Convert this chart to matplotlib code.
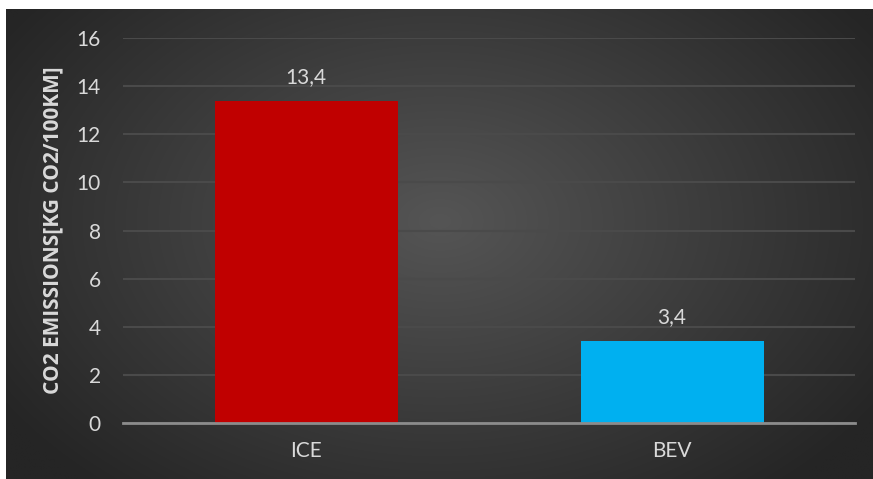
import numpy as np
import matplotlib
matplotlib.use("Agg")
import matplotlib.pyplot as plt

categories = ["ICE", "BEV"]
values = [13.4, 3.4]
labels = ["13,4", "3,4"]
colors = ["#C00000", "#00B0F0"]
yticks = [0, 2, 4, 6, 8, 10, 12, 14, 16]
ylabel = "CO2 EMISSIONS[KG CO2/100KM]"

W, H = 873, 479
fig = plt.figure(figsize=(W/100, H/100), dpi=100, facecolor="white")
plt.rcParams['font.family'] = ['Lato', 'DejaVu Sans']

# background radial gradient
bx0, by1 = 6/W, 1 - 9/H
bg = fig.add_axes([bx0, 0, 1 - bx0, by1])
ny, nx = 300, 550
yy, xx = np.mgrid[0:ny, 0:nx]
cx, cy = nx*0.5, ny*0.45
r = np.sqrt(((xx-cx)/(nx*0.6))**2 + ((yy-cy)/(ny*0.75))**2)
r = np.clip(r, 0, 1)
inner, outer = 0x55/255, 0x25/255
val = inner + (outer - inner) * r
img = np.dstack([val, val, val])
bg.imshow(img, aspect='auto', extent=[0, 1, 0, 1], interpolation='bilinear')
bg.set_axis_off()

ax = fig.add_axes([123/W, 1 - 423/H, (855-123)/W, (423-38)/H])
ax.set_facecolor("none")
x = np.arange(len(categories))
bars = ax.bar(x, values, width=0.5, color=colors, zorder=3)
ax.set_xlim(-0.5, 1.5)
ax.set_ylim(0, 16)
ax.set_yticks(yticks)
ax.set_yticklabels([str(t) for t in yticks])
ax.set_xticks(x)
ax.set_xticklabels(categories)
ax.tick_params(axis='both', length=0, colors="#d9d9d9", labelsize=15)
ax.tick_params(axis='y', pad=16)
ax.tick_params(axis='x', pad=13)
ax.grid(axis='y', color="#4a4a4a", linewidth=1.5, zorder=0)
for s in ["top", "right", "left"]:
    ax.spines[s].set_visible(False)
ax.spines["bottom"].set_color("#8c8c8c")
ax.spines["bottom"].set_linewidth(2)
ax.spines["bottom"].set_zorder(4)
for xi, v, lab in zip(x, values, labels):
    ax.annotate(lab, (xi, v), xytext=(0, 10), textcoords="offset points",
                ha="center", va="bottom", color="#d9d9d9", fontsize=15)
ax.set_ylabel(ylabel, color="#d9d9d9", fontsize=15, fontweight="bold",
              family=["Open Sans", "DejaVu Sans"])
ax.yaxis.set_label_coords(-0.082, 0.5)

fig.savefig("out.png", dpi=100, facecolor="white")
